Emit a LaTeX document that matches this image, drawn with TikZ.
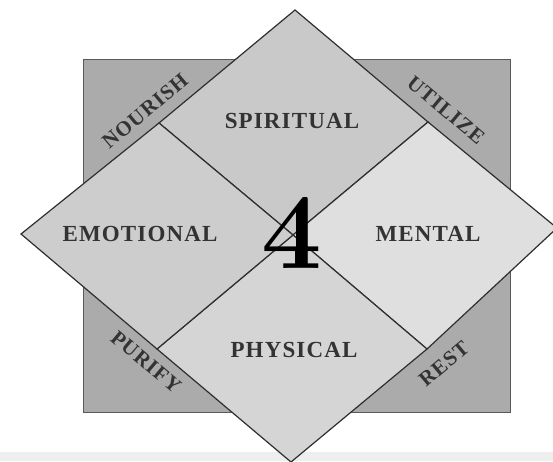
\documentclass[tikz,border=0pt]{standalone}
\usepackage{fontspec}
\setmainfont{Liberation Serif}
\newfontfamily\capsfont[LetterSpace=5]{Liberation Serif}
\newfontfamily\digitfont{Latin Modern Roman}
\usepackage{xcolor}
\usetikzlibrary{positioning}
\definecolor{sqgray}{HTML}{ABABAB}
\definecolor{spgray}{HTML}{C9C9C9}
\definecolor{emgray}{HTML}{CDCDCD}
\definecolor{megray}{HTML}{DFDFDF}
\definecolor{phgray}{HTML}{D5D5D5}
\definecolor{inkgray}{HTML}{2E2E2E}
\definecolor{txtgray}{HTML}{333333}
\definecolor{bandgray}{HTML}{EEEEEE}
\begin{document}
\begin{tikzpicture}[x=1pt,y=-1pt,
quad/.style={draw=inkgray,line width=1.2pt,line join=miter},
lbl/.style={font=\capsfont\bfseries\fontsize{23}{23}\selectfont,text=txtgray,inner sep=0pt},
tag/.style={font=\capsfont\bfseries\fontsize{21}{21}\selectfont,text=txtgray,inner sep=0pt}]
\useasboundingbox (0,0) rectangle (553,461);
\clip (0,0) rectangle (553,461);
\fill[bandgray] (0,452) rectangle (553,461);
\draw[fill=sqgray,draw=black!65,line width=1pt] (83,59) rectangle (510,412);
\coordinate (T) at (295,10);
\coordinate (R) at (557,228);
\coordinate (B) at (291,462);
\coordinate (L) at (21,234);
\coordinate (C) at (293,235);
\coordinate (tl) at (159,123);
\coordinate (tr) at (428,122);
\coordinate (br) at (427,349);
\coordinate (bl) at (157,349);
\filldraw[quad,fill=spgray] (T) -- (tr) -- (C) -- (tl) -- cycle;
\filldraw[quad,fill=megray] (tr) -- (R) -- (br) -- (C) -- cycle;
\filldraw[quad,fill=phgray] (C) -- (br) -- (B) -- (bl) -- cycle;
\filldraw[quad,fill=emgray] (tl) -- (C) -- (bl) -- (L) -- cycle;
\node[lbl] (spiritual) at (292,121) {SPIRITUAL};
\node[lbl] (emotional) at (140,234) {EMOTIONAL};
\node[lbl] (mental) at (428,234) {MENTAL};
\node[lbl] (physical) at (294,350) {PHYSICAL};
\node[font=\digitfont\bfseries\fontsize{108}{108}\selectfont,inner sep=0pt] (four) at (292,233) {4};
\node[tag,rotate=40] (nourish) at (145,111) {NOURISH};
\node[tag,rotate=-40] (utilize) at (446,110) {UTILIZE};
\node[tag,rotate=-40] (purify) at (146,362) {PURIFY};
\node[tag,rotate=40] (rest) at (444,364) {REST};
\end{tikzpicture}
\end{document}
